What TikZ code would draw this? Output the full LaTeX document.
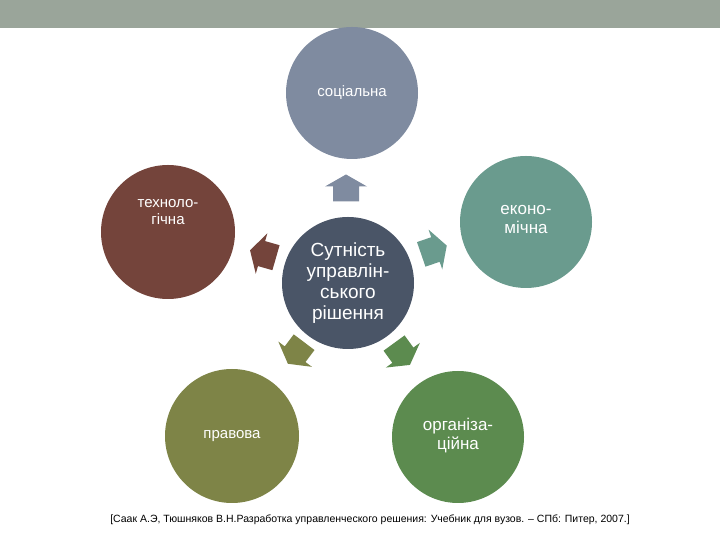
\documentclass[tikz,border=0pt]{standalone}
\usepackage{fontspec}
\setmainfont{Liberation Sans}
\definecolor{cbar}{HTML}{9AA59A}
\definecolor{csoc}{HTML}{7F8BA0}
\definecolor{ctech}{HTML}{74443B}
\definecolor{cecon}{HTML}{6A9B8E}
\definecolor{claw}{HTML}{7E8447}
\definecolor{corg}{HTML}{5C8B4F}
\definecolor{ccen}{HTML}{4A5567}
\tikzset{
  ball/.style={circle,minimum size=#1,inner sep=0pt,text=white,align=center,font=\fontsize{15}{16}\selectfont},
  blockarrow/.pic={\fill[pic actions] (-13.5,-13)--(1.5,-13)--(1.5,-21)--(13.5,0)--(1.5,21)--(1.5,13)--(-13.5,13)--cycle;}
}
\begin{document}
\begin{tikzpicture}[x=1pt,y=1pt]
\useasboundingbox (0,0) rectangle (720,540);
\fill[cbar] (0,512) rectangle (720,540);
\node[ball=132pt,fill=ccen,font=\fontsize{19}{21}\selectfont] (c) at (348,257) {Сутність\\управлін-\\ського\\рішення};
\node[ball=132pt,fill=csoc] (s) at (352,447) {соціальна};
\node[ball=134pt,fill=ctech,anchor=center] (t) at (168,308) {};
\node[ball=132pt,fill=cecon] (e) at (526,318) {};
\node[ball=134pt,fill=claw] (l) at (232,104) {правова};
\node[ball=132pt,fill=corg] (o) at (458,103) {};
\node[text=white,align=center,font=\fontsize{15}{17}\selectfont] (tt) at (168,328) {техноло-\\гічна};
\node[text=white,align=center,font=\fontsize{17}{19}\selectfont] (et) at (526,320) {еконо-\\мічна};
\node[text=white,align=center,font=\fontsize{17}{19}\selectfont] (ot) at (458,104) {організа-\\ційна};
\pic[fill=csoc,rotate=90] (a1) at (346,352) {blockarrow};
\pic[fill=ctech,rotate=164] (a2) at (263,286) {blockarrow};
\pic[fill=cecon,rotate=19] (a3) at (434,290) {blockarrow};
\pic[fill=claw,rotate=233] (a4) at (296,187) {blockarrow};
\pic[fill=corg,rotate=306] (a5) at (402,186) {blockarrow};
\node[font=\fontsize{10.5}{12}\selectfont] (ref) at (370,20) {[Саак А.Э, Тюшняков В.Н.Разработка управленческого решения: Учебник для вузов. – СПб: Питер, 2007.]};
\end{tikzpicture}
\end{document}
